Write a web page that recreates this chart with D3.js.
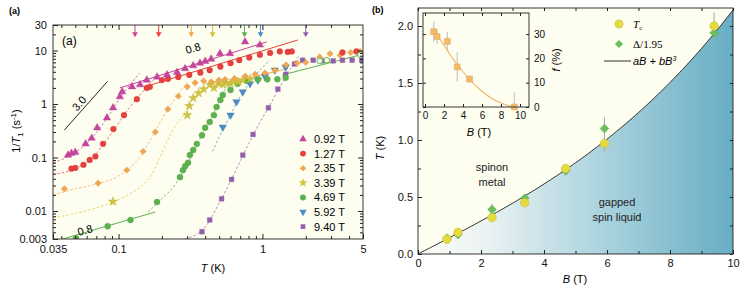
<!DOCTYPE html>
<html><head><meta charset="utf-8">
<script src="https://cdn.jsdelivr.net/npm/d3@7"></script>
<style>
body{margin:0;background:#fff}
svg{display:block;font-family:"Liberation Sans",Arial,sans-serif}
</style></head><body>
<svg id="chart" width="748" height="293"></svg>
<script>
// ---- data ----
const fields = ['0.92 T', '1.27 T', '2.35 T', '3.39 T', '4.69 T', '5.92 T', '9.40 T']
const fieldB = [0.92, 1.27, 2.35, 3.39, 4.69, 5.92, 9.40]
const tcVals = [0.13, 0.19, 0.32, 0.45, 0.75, 0.97, 2.0]
const tcErr = [0.02, 0.02, 0.04, 0.03, 0.03, 0.08, 0.12]
const gapVals = [0.14, 0.17, 0.39, 0.49, 0.73, 1.10, 1.94]
const gapErr = [0.01, 0.01, 0.05, 0.02, 0.03, 0.1, 0.06]
const fitA = 0.142, fitB = 0.00072 // aB + bB^3

const fVals = [31, 29, 27, 16.5, 11.5, 0]
const fErr = [4, 3, 4, 6, 1.5, 6]
const fB = [0.92, 1.27, 2.35, 3.39, 4.69, 9.40]
const fFit = [[0.9, 32], [1.5, 28.5], [2, 25.5], [3, 19.5], [4, 14.5], [5, 10], [6, 6.5], [7, 3.6], [8, 1.6], [9, 0.3], [9.4, 0]]

// 1/T1 (s^-1) vs T (K)
const rate092 = [[0.0445, 0.111], [0.047, 0.12], [0.05, 0.125], [0.059, 0.18], [0.065, 0.23], [0.071, 0.36], [0.083, 0.55], [0.0915, 0.85], [0.102, 1.37], [0.106, 1.7], [0.124, 2.1], [0.141, 2.3], [0.157, 2.8], [0.185, 3.2], [0.217, 3.5], [0.255, 3.9], [0.29, 4.6], [0.33, 5.2], [0.368, 5.8], [0.40, 6.3], [0.44, 6.9], [0.507, 8.8], [0.595, 8.8], [0.757, 14.5], [0.96, 12.7]]
const rate127 = [[0.047, 0.062], [0.05, 0.064], [0.057, 0.073], [0.063, 0.09], [0.069, 0.105], [0.078, 0.18], [0.092, 0.34], [0.109, 0.62], [0.134, 1.23], [0.157, 2.0], [0.165, 2.1], [0.2, 2.8], [0.22, 2.95], [0.26, 3.2], [0.31, 3.5], [0.37, 3.85], [0.43, 4.3], [0.51, 5.0], [0.6, 5.8], [0.69, 6.6], [0.81, 7.4], [0.96, 8.3], [1.13, 9.0], [1.32, 9.6], [1.5, 9.4], [1.6, 9.6], [3.6, 9.2], [4.5, 9.6]]
const rate235 = [[0.042, 0.026], [0.072, 0.033], [0.114, 0.058], [0.148, 0.13], [0.18, 0.30], [0.22, 0.80], [0.26, 1.4], [0.3, 2.1], [0.34, 2.5], [0.39, 2.7], [0.44, 2.6], [0.5, 2.8], [0.55, 2.9], [0.64, 3.0], [0.76, 3.3], [0.89, 3.6], [1.04, 3.8], [1.22, 4.3], [1.46, 5.4], [1.74, 5.8], [2.0, 6.0], [2.5, 7.6], [2.95, 8.7], [3.46, 8.2], [4.1, 9.2], [4.77, 9.6]]
const rate339 = [[0.0915, 0.015], [0.3, 0.62], [0.31, 0.92], [0.33, 1.3], [0.36, 1.6], [0.39, 1.9], [0.43, 2.3], [0.46, 2.0], [0.49, 2.5], [0.53, 2.3], [0.56, 2.5], [0.6, 2.4], [0.63, 2.7], [0.68, 2.6], [0.73, 2.8], [0.82, 2.95]]
const rate469 = [[0.0505, 0.0031], [0.084, 0.0052], [0.121, 0.0068], [0.185, 0.0147], [0.267, 0.043], [0.28, 0.058], [0.29, 0.069], [0.304, 0.08], [0.313, 0.111], [0.33, 0.138], [0.35, 0.18], [0.38, 0.26], [0.4, 0.36], [0.43, 0.46], [0.46, 0.62], [0.48, 0.88], [0.51, 1.19], [0.53, 1.48], [0.6, 1.83], [0.67, 2.4], [0.78, 2.7], [0.93, 2.9], [1.08, 2.9], [1.27, 2.9], [1.45, 3.1]]
const rate469open = [[2.5, 6.4], [2.8, 6.6], [4.8, 8.3]]
const rate592 = [[0.53, 0.37], [0.6, 0.62], [0.66, 1.1], [0.73, 1.68], [0.82, 2.4], [0.93, 2.8], [1.04, 3.3], [1.22, 4.3], [1.45, 4.9]]
const rate940 = [[0.38, 0.0041], [0.43, 0.0068], [0.52, 0.0169], [0.61, 0.039], [0.73, 0.111], [0.86, 0.27], [1.1, 0.85], [1.28, 1.9], [1.45, 3.6], [1.67, 5.6], [1.9, 6.6], [2.25, 6.6], [2.6, 6.4], [3.1, 6.4], [3.6, 6.6], [4.2, 6.6], [4.9, 6.6]]

// dashed fits
const fit092 = [[0.035, 0.08], [0.045, 0.105], [0.055, 0.15], [0.065, 0.23], [0.075, 0.37], [0.09, 0.75], [0.105, 1.45], [0.12, 2.3], [0.14, 3.8]]
const fit127 = [[0.035, 0.048], [0.05, 0.062], [0.065, 0.095], [0.08, 0.19], [0.095, 0.36], [0.11, 0.65], [0.13, 1.15], [0.15, 1.8], [0.17, 2.6], [0.185, 3.3]]
const fit235 = [[0.035, 0.02], [0.05, 0.026], [0.07, 0.032], [0.1, 0.045], [0.12, 0.065], [0.14, 0.1], [0.16, 0.18], [0.18, 0.31], [0.2, 0.52], [0.22, 0.8], [0.25, 1.3], [0.28, 2.0], [0.3, 2.5]]
const fit339 = [[0.035, 0.0075], [0.05, 0.009], [0.07, 0.0115], [0.09, 0.0145], [0.12, 0.021], [0.15, 0.032], [0.17, 0.048], [0.19, 0.09], [0.217, 0.2], [0.25, 0.4], [0.28, 0.6], [0.31, 0.95], [0.34, 1.45]]
const fit469 = [[0.16, 0.0095], [0.2, 0.017], [0.24, 0.028], [0.27, 0.045], [0.3, 0.075], [0.35, 0.17], [0.4, 0.35], [0.45, 0.6], [0.5, 1.1], [0.55, 1.9], [0.6, 2.9]]
const fit592 = [[0.45, 0.13], [0.5, 0.24], [0.55, 0.4], [0.6, 0.62], [0.66, 1.05], [0.73, 1.65], [0.82, 2.5], [0.92, 3.8], [1.05, 5.5], [1.12, 6.6]]
const fit940 = [[0.29, 0.003], [0.4, 0.005], [0.5, 0.014], [0.6, 0.036], [0.7, 0.085], [0.8, 0.18], [0.9, 0.33], [1.0, 0.55], [1.1, 0.85], [1.2, 1.3], [1.3, 1.95], [1.45, 3.2], [1.6, 5], [1.8, 8]]

// solid power-law lines
const line092 = [[0.102, 2.0], [1.07, 14.5]]
const line127 = [[0.17, 2.3], [1.76, 15.7]]
const line235 = [[0.45, 2.1], [1.5, 4.6]]
const line469lo = [[0.041, 0.003], [0.18, 0.0096]]
const line469hi = [[1.38, 3.5], [4.96, 8.5]]
const slope30 = [[0.042, 0.327], [0.0836, 2.63]]

const xLabelsA = [0.035, 0.1, 1, 5]
const xMinorA = [0.04, 0.05, 0.06, 0.07, 0.08, 0.09, 0.2, 0.3, 0.4, 0.5, 0.6, 0.7, 0.8, 0.9, 2, 3, 4]
const yLabelsA = [30, 10, 1, 0.1, 0.01, 0.003]
const yMinorA = [0.004, 0.005, 0.006, 0.007, 0.008, 0.009, 0.02, 0.03, 0.04, 0.05, 0.06, 0.07, 0.08, 0.09, 0.2, 0.3, 0.4, 0.5, 0.6, 0.7, 0.8, 0.9, 2, 3, 4, 5, 6, 7, 8, 9, 20]

const colors = ['#c8449f', '#e8403f', '#f2a650', '#d0c43c', '#5cb24e', '#4b8cc6', '#9360ae']
const fitColors = ['#d672b6', '#ee7070', '#f5bf7e', '#e3da6a', '#86c77a', '#7aaede', '#b18cc8']
const cream = '#fdfdf0'

const svg = d3.select('#chart')

// ===== panel (a) =====
const xA = d3.scaleLog().domain([0.035, 5]).range([53, 363])
const yA = d3.scaleLog().domain([0.003, 30]).range([239, 25])
const lineA = d3.line().x(d => xA(d[0])).y(d => yA(d[1]))
const curveA = d3.line().x(d => xA(d[0])).y(d => yA(d[1])).curve(d3.curveMonotoneX)

svg.append('rect').attr('x', 53).attr('y', 25).attr('width', 310).attr('height', 214).attr('fill', cream)
svg.append('clipPath').attr('id', 'clipA').append('rect').attr('x', 53).attr('y', 25).attr('width', 310).attr('height', 214)
const gA = svg.append('g').attr('clip-path', 'url(#clipA)')

const fits = [fit092, fit127, fit235, fit339, fit469, fit592, fit940]
fits.forEach((f, i) => {
  gA.append('path').attr('d', curveA(f)).attr('fill', 'none')
    .attr('stroke', fitColors[i]).attr('stroke-width', 1).attr('stroke-dasharray', '2.5,2')
})
const solids = [[line092, 0], [line127, 1], [line235, 2], [line469lo, 4], [line469hi, 4]]
solids.forEach(([l, i]) => {
  gA.append('path').attr('d', lineA(l)).attr('stroke', colors[i]).attr('stroke-width', 1)
})
gA.append('path').attr('d', lineA(slope30)).attr('stroke', '#111').attr('stroke-width', 0.9)

// diamonds are squares turned by 45 degrees
const symbols = [d3.symbolTriangle, d3.symbolCircle, d3.symbolSquare, d3.symbolStar, d3.symbolCircle, d3.symbolTriangle, d3.symbolSquare]
const sizes = [24, 26, 20, 26, 28, 24, 22]
const rotate = [0, 0, 45, 0, 0, 180, 0]
const rates = [rate092, rate127, rate235, rate339, rate469, rate592, rate940]
const drawOrder = [6, 5, 4, 3, 2, 1, 0]
drawOrder.forEach(i => {
  gA.append('g').selectAll('path').data(rates[i]).join('path')
    .attr('d', d3.symbol(symbols[i], sizes[i]))
    .attr('transform', d => `translate(${xA(d[0])},${yA(d[1])}) rotate(${rotate[i]})`)
    .attr('fill', colors[i]).attr('stroke', d3.color(colors[i]).darker(0.3)).attr('stroke-width', 0.4)
})
gA.append('g').selectAll('circle').data(rate469open).join('circle')
  .attr('cx', d => xA(d[0])).attr('cy', d => yA(d[1])).attr('r', 2.8)
  .attr('fill', cream).attr('stroke', colors[4]).attr('stroke-width', 1)

// arrows at Tc
tcVals.forEach((t, i) => {
  const x = xA(t)
  svg.append('line').attr('x1', x).attr('x2', x).attr('y1', 25).attr('y2', 33).attr('stroke', colors[i]).attr('stroke-width', 1)
  svg.append('path').attr('d', d3.symbol(d3.symbolTriangle, 14)).attr('transform', `translate(${x},34) rotate(180)`).attr('fill', colors[i])
})

// axes (a)
function axisA(gen, tx, ty, vals, size, fmt) {
  svg.append('g').attr('transform', `translate(${tx},${ty})`)
    .call(gen.tickValues(vals).tickSizeInner(size).tickSizeOuter(0).tickPadding(6).tickFormat(fmt))
    .call(g => g.select('.domain').remove())
    .call(g => g.selectAll('line').attr('stroke', '#222'))
    .call(g => g.selectAll('text').attr('font-size', 11).attr('fill', '#111').attr('font-family', '"Liberation Sans",Arial,sans-serif'))
}
const none = () => ''
axisA(d3.axisBottom(xA), 0, 239, xLabelsA, -5, d => d)
axisA(d3.axisBottom(xA), 0, 239, xMinorA, -3, none)
axisA(d3.axisTop(xA), 0, 25, [0.1, 1], -5, none)
axisA(d3.axisTop(xA), 0, 25, xMinorA, -3, none)
axisA(d3.axisLeft(yA), 53, 0, yLabelsA, -5, d => d)
axisA(d3.axisLeft(yA), 53, 0, yMinorA, -3, none)
axisA(d3.axisRight(yA), 363, 0, [0.01, 0.1, 1, 10], -5, none)
axisA(d3.axisRight(yA), 363, 0, yMinorA, -3, none)
svg.append('rect').attr('x', 53).attr('y', 25).attr('width', 310).attr('height', 214)
  .attr('fill', 'none').attr('stroke', '#222').attr('stroke-width', 0.9)

// legend (a)
fields.forEach((f, i) => {
  const y = 139 + i * 14.6
  svg.append('path').attr('d', d3.symbol(symbols[i], sizes[i]))
    .attr('transform', `translate(303,${y}) rotate(${rotate[i]})`).attr('fill', colors[i])
  svg.append('text').attr('x', 314).attr('y', y + 4).attr('font-size', 11).text(f)
})

svg.append('text').attr('x', 62).attr('y', 45).attr('font-size', 12).text('(a)')
svg.append('text').attr('transform', `translate(82,106) rotate(-48)`).attr('text-anchor', 'middle').attr('font-size', 11).text('3.0')
svg.append('text').attr('transform', `translate(194,52) rotate(-16)`).attr('text-anchor', 'middle').attr('font-size', 11).text('0.8')
svg.append('text').attr('transform', `translate(86,234) rotate(-16)`).attr('text-anchor', 'middle').attr('font-size', 11).text('0.8')

const yTitle = svg.append('text').attr('transform', 'translate(20,131) rotate(-90)').attr('text-anchor', 'middle').attr('font-size', 11)
yTitle.append('tspan').text('1/')
yTitle.append('tspan').attr('font-style', 'italic').text('T')
yTitle.append('tspan').attr('font-size', 8).attr('dy', 3).text('1')
yTitle.append('tspan').attr('dy', -3).text(' (s')
yTitle.append('tspan').attr('font-size', 8).attr('dy', -4).text('-1')
yTitle.append('tspan').attr('dy', 4).text(')')
const xTitle = svg.append('text').attr('x', 213).attr('y', 272).attr('text-anchor', 'middle').attr('font-size', 11)
xTitle.append('tspan').attr('font-style', 'italic').text('T')
xTitle.append('tspan').text(' (K)')

svg.append('text').attr('x', 9).attr('y', 14).attr('font-size', 9).attr('font-weight', 'bold').text('(a)')
svg.append('text').attr('x', 372).attr('y', 13).attr('font-size', 9).attr('font-weight', 'bold').text('(b)')

// ===== panel (b) =====
const xB = d3.scaleLinear().domain([0, 10]).range([418, 733])
const yB = d3.scaleLinear().domain([0, 2.158]).range([254, 8])
const fitCurve = d3.range(0, 10.001, 0.1).map(b => [b, fitA * b + fitB * b * b * b])

const defs = svg.append('defs')
const grad = defs.append('linearGradient').attr('id', 'blue')
  .attr('gradientUnits', 'userSpaceOnUse').attr('x1', 418).attr('x2', 733).attr('y1', 0).attr('y2', 0)
grad.append('stop').attr('offset', '0%').attr('stop-color', '#fbfcf4')
grad.append('stop').attr('offset', '20%').attr('stop-color', '#ecf4f3')
grad.append('stop').attr('offset', '55%').attr('stop-color', '#b1d6e0')
grad.append('stop').attr('offset', '100%').attr('stop-color', '#67aec4')

svg.append('rect').attr('x', 418).attr('y', 8).attr('width', 315).attr('height', 246).attr('fill', cream)
svg.append('path').datum(fitCurve)
  .attr('d', d3.area().x(d => xB(d[0])).y0(yB(0)).y1(d => yB(d[1])))
  .attr('fill', 'url(#blue)')
svg.append('path').datum(fitCurve)
  .attr('d', d3.line().x(d => xB(d[0])).y(d => yB(d[1])))
  .attr('fill', 'none').attr('stroke', '#333').attr('stroke-width', 1)

// error bars
const errG = svg.append('g').attr('stroke', '#a8a8a8').attr('stroke-width', 1)
fieldB.forEach((b, i) => {
  errG.append('line').attr('x1', xB(b)).attr('x2', xB(b)).attr('y1', yB(gapVals[i] - gapErr[i])).attr('y2', yB(gapVals[i] + gapErr[i]))
  errG.append('line').attr('x1', xB(b)).attr('x2', xB(b)).attr('y1', yB(tcVals[i] - tcErr[i])).attr('y2', yB(tcVals[i] + tcErr[i]))
})
svg.append('g').selectAll('path').data(fieldB).join('path')
  .attr('d', d3.symbol(d3.symbolSquare, 38))
  .attr('transform', (b, i) => `translate(${xB(b)},${yB(gapVals[i])}) rotate(45)`)
  .attr('fill', '#6cbf5e').attr('stroke', '#4f9f45').attr('stroke-width', 0.4)
svg.append('g').selectAll('circle').data(fieldB).join('circle')
  .attr('cx', b => xB(b)).attr('cy', (b, i) => yB(tcVals[i])).attr('r', 4.3)
  .attr('fill', '#e4dc3e').attr('stroke', '#c4b830').attr('stroke-width', 0.5)

// axes (b)
function axisB(gen, tx, ty, vals, size, fmt, fs) {
  svg.append('g').attr('transform', `translate(${tx},${ty})`)
    .call(gen.tickValues(vals).tickSizeInner(size).tickSizeOuter(0).tickPadding(5).tickFormat(fmt))
    .call(g => g.select('.domain').remove())
    .call(g => g.selectAll('line').attr('stroke', '#222'))
    .call(g => g.selectAll('text').attr('font-size', fs || 11).attr('fill', '#111').attr('font-family', '"Liberation Sans",Arial,sans-serif'))
}
const xTicksB = d3.range(0, 11, 1)
const yTicksB = d3.range(0, 2.01, 0.25)
axisB(d3.axisBottom(xB), 0, 254, xTicksB.filter(d => d % 2 === 0), -4, d => d)
axisB(d3.axisBottom(xB), 0, 254, xTicksB.filter(d => d % 2 === 1), -3, none)
axisB(d3.axisTop(xB), 0, 8, xTicksB, -3, none)
axisB(d3.axisLeft(yB), 418, 0, yTicksB.filter((d, i) => i % 2 === 0), -4, d3.format('.1f'))
axisB(d3.axisLeft(yB), 418, 0, yTicksB.filter((d, i) => i % 2 === 1), -3, none)
axisB(d3.axisRight(yB), 733, 0, yTicksB, -3, none)
svg.append('rect').attr('x', 418).attr('y', 8).attr('width', 315).attr('height', 246)
  .attr('fill', 'none').attr('stroke', '#222').attr('stroke-width', 0.9)

svg.append('text').attr('x', 492).attr('y', 171).attr('text-anchor', 'middle').attr('font-size', 11).attr('fill', '#222').text('spinon')
svg.append('text').attr('x', 492).attr('y', 186).attr('text-anchor', 'middle').attr('font-size', 11).attr('fill', '#222').text('metal')
svg.append('text').attr('x', 617).attr('y', 206).attr('text-anchor', 'middle').attr('font-size', 11).attr('fill', '#222').text('gapped')
svg.append('text').attr('x', 617).attr('y', 221).attr('text-anchor', 'middle').attr('font-size', 11).attr('fill', '#222').text('spin liquid')

const bTitle = svg.append('text').attr('x', 575).attr('y', 283).attr('text-anchor', 'middle').attr('font-size', 11)
bTitle.append('tspan').attr('font-style', 'italic').text('B')
bTitle.append('tspan').text(' (T)')
const tTitle = svg.append('text').attr('transform', 'translate(384,148) rotate(-90)').attr('text-anchor', 'middle').attr('font-size', 11)
tTitle.append('tspan').attr('font-style', 'italic').text('T')
tTitle.append('tspan').text(' (K)')

// legend (b)
svg.append('circle').attr('cx', 619).attr('cy', 24).attr('r', 4.2).attr('fill', '#e4dc3e').attr('stroke', '#c4b830').attr('stroke-width', 0.5)
const tcLab = svg.append('text').attr('x', 633).attr('y', 28).attr('font-size', 11).attr('font-family', '"Liberation Serif",serif')
tcLab.append('tspan').attr('font-style', 'italic').text('T')
tcLab.append('tspan').attr('font-size', 7).attr('dy', 2).text('c')
svg.append('path').attr('d', d3.symbol(d3.symbolSquare, 34)).attr('transform', 'translate(619,44) rotate(45)').attr('fill', '#6cbf5e')
svg.append('text').attr('x', 633).attr('y', 48).attr('font-size', 11).attr('font-family', '"Liberation Serif",serif').text('Δ/1.95')
svg.append('line').attr('x1', 604).attr('x2', 631).attr('y1', 61).attr('y2', 61).attr('stroke', '#333')
const fitLab = svg.append('text').attr('x', 633).attr('y', 65).attr('font-size', 11).attr('font-style', 'italic')
fitLab.append('tspan').text('aB + bB')
fitLab.append('tspan').attr('font-size', 7).attr('dy', -4).text('3')

// ===== inset =====
const xI = d3.scaleLinear().domain([0, 10]).range([425, 520])
const yI = d3.scaleLinear().domain([0, 10]).range([107, 82.7])
svg.append('rect').attr('x', 423).attr('y', 13).attr('width', 106).attr('height', 94).attr('fill', cream)
const iErr = svg.append('g').attr('stroke', '#bdbdbd').attr('stroke-width', 1)
fB.forEach((b, i) => {
  iErr.append('line').attr('x1', xI(b)).attr('x2', xI(b)).attr('y1', yI(Math.max(0, fVals[i] - fErr[i]))).attr('y2', yI(fVals[i] + fErr[i]))
})
svg.append('path').datum(fFit).attr('d', d3.line().x(d => xI(d[0])).y(d => yI(d[1])).curve(d3.curveMonotoneX))
  .attr('fill', 'none').attr('stroke', '#f0b565').attr('stroke-width', 1.1)
svg.append('g').selectAll('path').data(fB).join('path')
  .attr('d', d3.symbol(d3.symbolSquare, 34))
  .attr('transform', (b, i) => `translate(${xI(b)},${yI(fVals[i])})`)
  .attr('fill', '#f5b96a').attr('stroke', '#e0a050').attr('stroke-width', 0.5)
axisB(d3.axisBottom(xI), 0, 107, [0, 2, 4, 6, 8, 10], -3, d => d, 10)
axisB(d3.axisTop(xI), 0, 13, [0, 2, 4, 6, 8, 10], -3, none)
axisB(d3.axisRight(yI), 529, 0, [0, 10, 20, 30], -3, d => d, 10)
axisB(d3.axisLeft(yI), 423, 0, [0, 10, 20, 30], -3, none)
svg.append('rect').attr('x', 423).attr('y', 13).attr('width', 106).attr('height', 94)
  .attr('fill', 'none').attr('stroke', '#222').attr('stroke-width', 0.9)
const iX = svg.append('text').attr('x', 479).attr('y', 136).attr('text-anchor', 'middle').attr('font-size', 11)
iX.append('tspan').attr('font-style', 'italic').text('B')
iX.append('tspan').text(' (T)')
const iY = svg.append('text').attr('transform', 'translate(560,60) rotate(-90)').attr('text-anchor', 'middle').attr('font-size', 11)
iY.append('tspan').attr('font-style', 'italic').text('f')
iY.append('tspan').text(' (%)')
</script></body></html>
